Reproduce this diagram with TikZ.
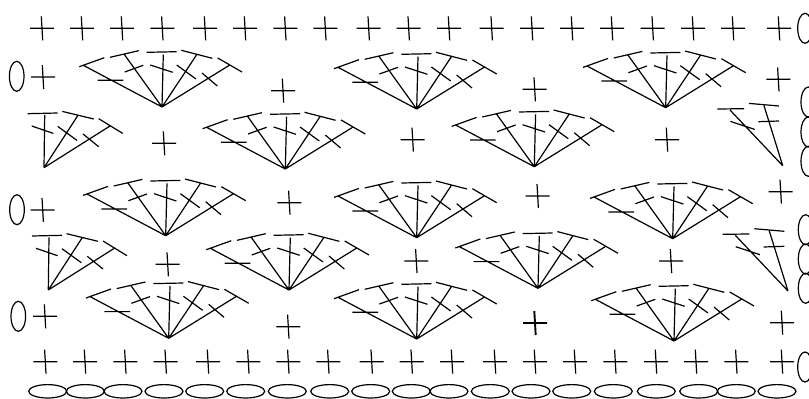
\documentclass[tikz,border=0pt]{standalone}
\tikzset{
  ink/.style={line width=1.2pt,black,line cap=butt},
  plusst/.pic={\draw[ink] (-12,0)--(12,0) (-0.7,-12)--(0.7,12);},
  plusbold/.pic={\draw[ink,line width=1.9pt] (-12,0)--(12,0) (-0.7,-12)--(0.7,12);},
  ovalv/.pic={\draw[ink] (0,0) ellipse [x radius=7.3,y radius=15];},
  ovalh/.pic={\draw[ink] (0,0) ellipse [x radius=19,y radius=6.7];},
  fanfull/.pic={\draw[ink]
    (0,0)--(-78.7,-41.7) (0,0)--(-38,-53) (0,0)--(1.3,-52.3) (0,0)--(34.7,-52.3) (0,0)--(67.3,-41.7)
    (-82.7,-40.3)--(-57.7,-49.3) (-52,-49.7)--(-23.3,-56.3) (-15.3,-54.7)--(14.7,-55.3)
    (19.3,-56.7)--(50.3,-48.7) (55.7,-49)--(80,-35)
    (-64.3,-26.7)--(-38.7,-26.7) (-37.3,-35)--(-18.7,-41.7) (-11.7,-42)--(10.7,-34.7)
    (14.7,-42)--(34,-28) (40,-34)--(55.3,-21);},
  fanleft/.pic={\draw[ink]
    (0,0)--(0.7,-52.7) (0,0)--(33.7,-52) (0,0)--(66,-41.7)
    (-16.3,-54)--(13.7,-54.7) (18.3,-56.3)--(49.7,-48.7) (54.7,-49)--(78.7,-34.3)
    (-12.3,-41.7)--(9.3,-34.3) (13.7,-41.3)--(33,-27.3) (39,-33.7)--(54.7,-21);},
  fanright/.pic={\draw[ink]
    (0,0)--(-52.7,-55.7) (0,0)--(-18.7,-60)
    (-65.3,-56.7)--(-38.7,-57) (-33.7,-62.3)--(-3.7,-59.7)
    (-52.3,-44.3)--(-28,-36.3) (-24.3,-44)--(-3.7,-44.7);}
}
\begin{document}
\begin{tikzpicture}[x=1pt,y=-1pt]
\useasboundingbox (0,0) rectangle (809,399);
\fill[white] (0,0) rectangle (809,399);
\clip (0,0) rectangle (809,399);
% top and bottom rows of plus stitches
\foreach \x in {42,82,122,162.3,205,245,285.3,325.3,368.7,408.7,449,491.7,532,572,612,652.7,693,733,779}
  \pic at (\x,28.3) {plusst};
\foreach \x in {45.3,85,125.3,165.7,208,248.3,288.3,328.3,371.7,411.7,452,495,535,575,615.3,656,696,736.3,782}
  \pic at (\x,361.7) {plusst};
% single plus stitches
\foreach \x/\y in {43/77,283/90.7,534.7/89.3,778.3/79.3,
  164/143.3,412.7/139.7,667/139.7,
  42.7/210,289.3/202.7,537.7/196,780.7/191.7,
  167.7/264.3,416.3/261,671/261,
  45/316.3,288.3/326.7,782/322.7}
  \pic at (\x,\y) {plusst};
\pic at (535,323) {plusbold};
% fans
\foreach \x/\y in {162/107,416.7/109,665.7/107.7,
  285.3/169,534.3/166.7,
  165.7/235.7,416.7/237.7,672.7/238.7,
  289/290,538/288.3,
  168.7/338.3,416.7/339,674/341}
  \pic at (\x,\y) {fanfull};
\foreach \x/\y in {44/167.7,48.3/290}
  \pic at (\x,\y) {fanleft};
\foreach \x/\y in {782.7/165.7,788/291}
  \pic at (\x,\y) {fanright};
% chain ovals
\foreach \x/\y in {16.7/76.3,17/209.7,18.3/316.3,805/28.3,
  808.3/102,808.3/132,808.3/161.3,805.6/229.7,805.6/259,805.6/288.3,805/367}
  \pic at (\x,\y) {ovalv};
\foreach \x in {47.7,85.3,123,164,204.7,245.7,287.3,329.7,370.7,411.3,449,490.3,531,571.7,613.3,656.3,698.7,736.3,777}
  \pic at (\x,391.3) {ovalh};
\end{tikzpicture}
\end{document}
